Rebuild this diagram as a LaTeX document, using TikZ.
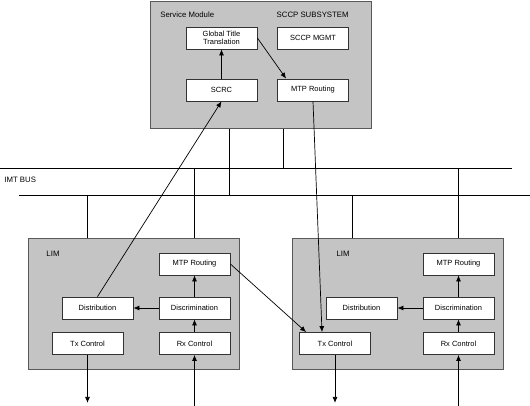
\documentclass[tikz,border=0pt]{standalone}
\usepackage{fontspec}
\setmainfont{Liberation Sans}
\usetikzlibrary{arrows.meta}
\tikzset{
  blk/.style={draw=black!80, fill=white, line width=0.8pt, minimum width=71pt, minimum height=22pt, inner sep=0pt, font=\fontsize{7.5}{8.5}\selectfont, align=center},
  card/.style={draw=black!65, fill=black!23, line width=1pt, inner sep=0pt},
  lbl/.style={font=\fontsize{7.8}{9}\selectfont, inner sep=0pt},
  arr/.style={-{Latex[length=6pt,width=5pt]}, line width=0.7pt},
}
\begin{document}
\begin{tikzpicture}[x=1pt,y=-1pt,line width=0.7pt]
\useasboundingbox (0,0) rectangle (530,406);
% service module
\node[card, minimum width=221pt, minimum height=127pt] (svc) at (260.5,65.5) {};
\node[lbl, anchor=west] (svcname) at (160,15) {Service Module};
\node[lbl, anchor=east] (sccp) at (349,15) {SCCP SUBSYSTEM};
\node[blk] (gtt) at (221.5,38) {Global Title\\Translation};
\node[blk] (mgmt) at (313,38) {SCCP MGMT};
\node[blk] (scrc) at (221.5,90) {SCRC};
\node[blk] (mtp) at (313,90) {MTP Routing};
\draw[arr] (scrc) -- (gtt);
\draw[arr] (gtt.east) -- ([xshift=9pt]mtp.north west);
% IMT bus
\coordinate (bus1w) at (0,168);
\coordinate (bus1e) at (512,168);
\coordinate (bus2w) at (19,195);
\coordinate (bus2e) at (530,195);
\draw (bus1w) -- (bus1e);
\draw (bus2w) -- (bus2e);
\node[lbl, anchor=west] (imt) at (4,180) {IMT BUS};
\coordinate (sv1) at (229,129);
\coordinate (sv2) at (283,129);
\draw (sv1) -- (sv1 |- bus2w);
\draw (sv2) -- (sv2 |- bus1w);
% line interface modules
\foreach \s/\dx/\lx/\tx in {a/0/53/87.5, b/264/343/335} {
  \node[card, minimum width=211pt, minimum height=131pt] (lim\s) at (133.5+\dx,303.5) {};
  \node[lbl] (limname\s) at (\lx,254) {LIM};
  \node[blk] (mtp\s) at (194.5+\dx,264) {MTP Routing};
  \node[blk] (dist\s) at (97.5+\dx,308) {Distribution};
  \node[blk] (disc\s) at (194.5+\dx,308) {Discrimination};
  \node[blk] (tx\s) at (\tx,343.5) {Tx Control};
  \node[blk] (rx\s) at (194.5+\dx,343.5) {Rx Control};
  \draw[arr] (disc\s) -- (dist\s);
  \draw[arr] (disc\s) -- (mtp\s);
  \draw[arr] (rx\s) -- (disc\s);
  \path (tx\s.south) ++(0,48) coordinate (out\s);
  \path (rx\s.south) ++(0,51) coordinate (in\s);
  \draw[arr] (tx\s) -- (out\s);
  \draw[arr] (in\s) -- (rx\s);
}
\foreach \x/\b/\l in {87/bus2w/lima, 194/bus1w/lima, 352/bus2w/limb, 458/bus1w/limb} {
  \coordinate (tp) at (\x,0);
  \draw (tp |- \b) -- (tp |- \l.north);
}
% paths between modules
\draw[arr] (dista.north) -- (scrc.south);
\draw[arr] (mtp.south) -- ([xshift=-13pt]txb.north);
\draw[arr] (mtpa.east) -- ([xshift=7pt]txb.north west);
\end{tikzpicture}
\end{document}
